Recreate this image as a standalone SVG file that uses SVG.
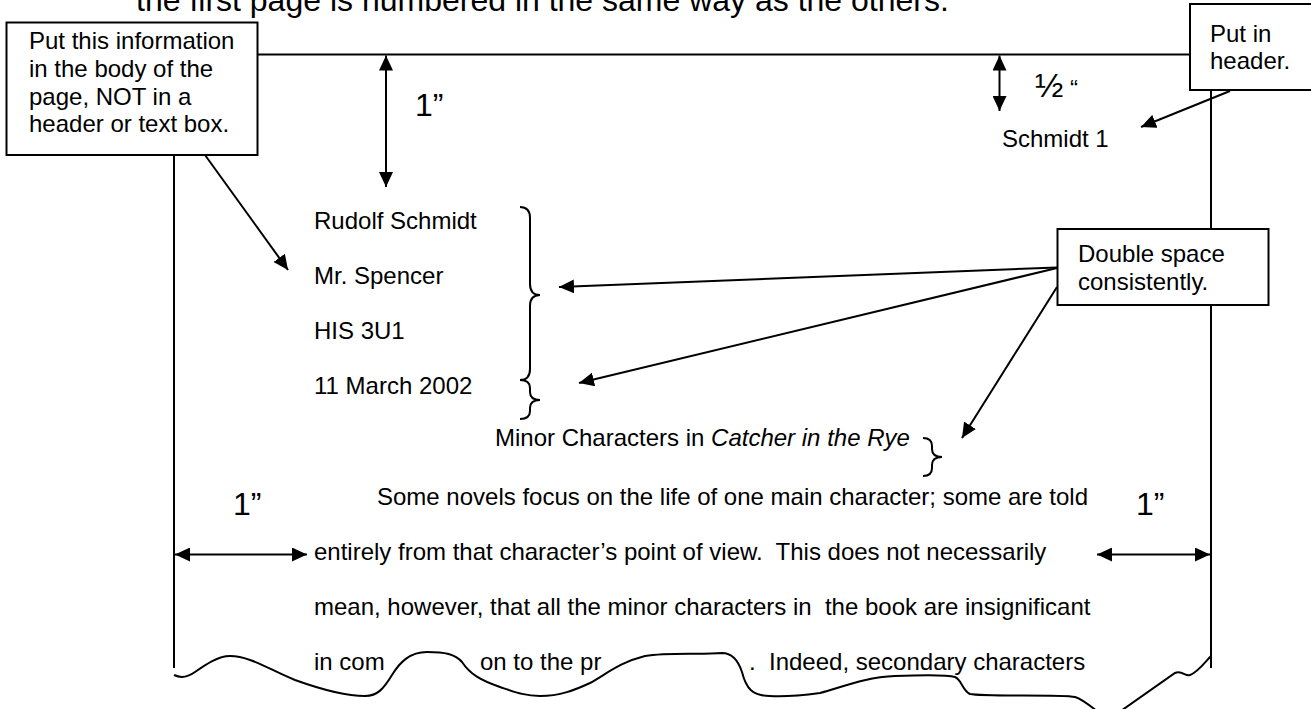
<svg xmlns="http://www.w3.org/2000/svg" width="1311" height="709" viewBox="0 0 1311 709">
<style>
text{font-family:"Liberation Sans",Arial,sans-serif;fill:#000;font-size:24px}
.big{font-size:32px}
.ln{stroke:#000;stroke-width:2;fill:none}
.box{stroke:#000;stroke-width:2;fill:#fff}
.arr{stroke:#000;stroke-width:2;fill:none;marker-end:url(#ah)}
.dbl{stroke:#000;stroke-width:2;fill:none;marker-start:url(#ah);marker-end:url(#ah)}
</style>
<defs>
<marker id="ah" viewBox="0 0 15 14" refX="15" refY="7" markerWidth="15" markerHeight="14" markerUnits="userSpaceOnUse" orient="auto-start-reverse">
<path d="M0,0 L15,7 L0,14 z" fill="#000"/>
</marker>
</defs>
<rect width="1311" height="709" fill="#fff"/>
<text class="big" x="136" y="11">the first page is numbered in the same way as the others.</text>

<g id="page">
<path class="ln" d="M174,668 L174,54.5 L1211,54.5 L1211,668"/>
<path class="ln" d="M174,675 C180,678 188,677 195,672 C205,665 218,656 230,656 C250,656 270,670 295,680 C320,689 345,696 365,696 C378,696 384,688 392,675 C400,662 410,652 427,652 C445,652 455,654 462,662 C470,674 480,680 500,687 C515,692 525,696 540,696 C560,696 575,690 590,683 C605,675 620,662 645,656 C670,652 700,655 722,653 C732,653 738,660 742,672 C746,688 752,696 770,696 C790,697 805,695 820,693 C840,688 865,677 895,676 C920,675 945,674 955,677 C962,680 962,690 970,694 C985,697 1060,694 1075,697 C1085,700 1095,710 1108,720 L1175,673 C1182,670 1186,677 1190,675 C1198,672 1205,662 1211,656"/>
<text x="1002" y="147">Schmidt 1</text>
<text x="314" y="228.5">Rudolf Schmidt</text>
<text x="314" y="283.7">Mr. Spencer</text>
<text x="314" y="338.9">HIS 3U1</text>
<text x="314" y="394.1">11 March 2002</text>
<text x="495" y="445.5">Minor Characters in <tspan font-style="italic">Catcher in the Rye</tspan></text>
<text x="377" y="504.5">Some novels focus on the life of one main character; some are told</text>
<text x="314" y="559.7" xml:space="preserve">entirely from that character’s point of view.  This does not necessarily</text>
<text x="314" y="614.9" xml:space="preserve">mean, however, that all the minor characters in  the book are insignificant</text>
<text x="314" y="670.1">in com</text>
<text x="480" y="670.1">on to the pr</text>
<text x="749" y="670.1" xml:space="preserve">.  Indeed, secondary characters</text>
<path class="ln" d="M520,207 Q530,207 530,218 L530,284 Q530,295 540,295 Q530,295 530,306 L530,369 Q530,380 520,380"/>
<path class="ln" d="M520,380 Q530,380 530,388 L530,392 Q530,400 540,400 Q530,400 530,408 L530,411 Q530,419 520,419"/>
<path class="ln" d="M923,438 Q932,438 932,446 L932,449 Q932,457 942,457 Q932,457 932,465 L932,468 Q932,476 923,476"/>
</g>

<g id="dimensions">
<line class="dbl" x1="386" y1="55.5" x2="386" y2="187"/>
<text class="big" x="415" y="116">1”</text>
<line class="dbl" x1="999.5" y1="55.5" x2="999.5" y2="111"/>
<text x="1035" y="97" font-size="32"><tspan font-size="34">½</tspan> “</text>
<line class="dbl" x1="175" y1="554.5" x2="307" y2="554.5"/>
<text class="big" x="233" y="515">1”</text>
<line class="dbl" x1="1097" y1="554.5" x2="1210" y2="554.5"/>
<text class="big" x="1136" y="515">1”</text>
</g>

<g id="connectors">
<line class="arr" x1="205" y1="155" x2="288" y2="270"/>
<line class="arr" x1="1230" y1="91" x2="1141" y2="127"/>
<line class="arr" x1="1057" y1="267.5" x2="559" y2="287"/>
<line class="arr" x1="1057" y1="268" x2="579" y2="383"/>
<line class="arr" x1="1057" y1="287" x2="962" y2="438"/>
</g>

<g id="node-body-info">
<rect class="box" x="6.5" y="22.5" width="251" height="132.5"/>
<text x="29" y="49.3">Put this information</text>
<text x="29" y="76.9">in the body of the</text>
<text x="29" y="104.5">page, NOT in a</text>
<text x="29" y="132.1">header or text box.</text>
</g>

<g id="node-header">
<rect class="box" x="1190" y="4" width="125" height="86"/>
<text x="1210" y="41.7">Put in</text>
<text x="1210" y="69.3">header.</text>
</g>

<g id="node-double-space">
<rect class="box" x="1057.5" y="229" width="211" height="76"/>
<text x="1078" y="262">Double space</text>
<text x="1078" y="289.6">consistently.</text>
</g>
</svg>
